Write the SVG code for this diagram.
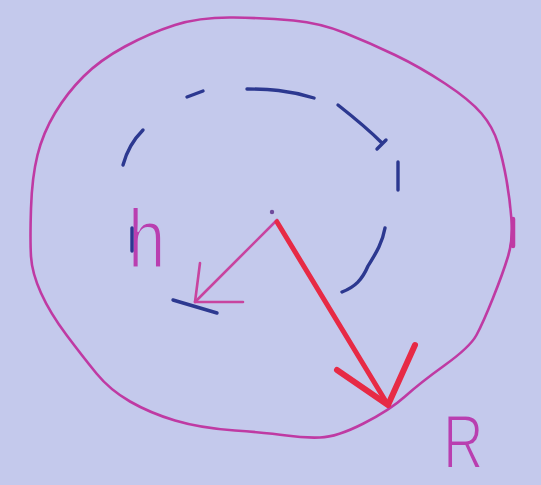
<svg xmlns="http://www.w3.org/2000/svg" width="541" height="485" viewBox="0 0 541 485">
<style>
.mag{fill:none;stroke:#bf3aa3;stroke-width:2.6;stroke-linecap:round;stroke-linejoin:round}
.blue{fill:none;stroke:#2c3890;stroke-width:3.4;stroke-linecap:round;stroke-linejoin:round}
.red{fill:none;stroke:#e72a45;stroke-linecap:round;stroke-linejoin:round}
.pink{fill:none;stroke:#c8449f;stroke-width:2.6;stroke-linecap:round;stroke-linejoin:round}
.lbl{font-family:"Liberation Sans",Arial,sans-serif;fill:#b93fb0;stroke:#c4c9ec;stroke-width:2.2;paint-order:fill}
</style>
<rect width="541" height="485" fill="#c4c9ec"/>
<g id="outer-circle">
<path class="mag" d="M293.5,20.5 Q320,23 345,33 Q370,43 395,55 Q420,67 445,83.5 Q470,100 481.5,113.5 Q493,127 498,143.5 Q503,160 506.5,180 Q510,200 511.5,220 Q513,240 508,256.5 Q503,273 493,298 Q483,323 476.5,335 Q470,347 445,365 Q420,383 405,396.5 Q390,410 363.5,423.5 Q337,437 320,437.5 Q303,438 286.5,435.5 Q270,433 235,430.5 Q200,428 175,420.5 Q150,413 130,401.5 Q110,390 96.5,373.5 Q83,357 66.5,335 Q50,313 41,293 Q32,273 31,256.5 Q30,240 31,208.5 Q32,177 37.5,155 Q43,133 55,113 Q67,93 83.5,76.5 Q100,60 125,46.5 Q150,33 175,25 Q200,17 233.5,17.5 Q267,18 293.5,20.5 Z"/>
<path class="mag" d="M513,219 L513,246" style="stroke-width:4.5"/>
</g>
<g id="inner-dashed-circle">
<path class="blue" d="M187,97 L203,91"/>
<path class="blue" d="M247,89 C268,89 288,90 314,98"/>
<path class="blue" d="M338,105 C352,116 368,129 382,143 M377,149 L386,140"/>
<path class="blue" d="M398,162 L398,190"/>
<path class="blue" d="M385,228 C382,245 374,256 368,266 C362,280 355,287 342,292"/>
<path class="blue" d="M143,130 C135,138 127,150 123,165"/>
</g>
<g id="center">
<circle cx="272" cy="212" r="2.2" fill="#6e4a9c"/>
</g>
<g id="connectors">
<g id="r-arrow">
<path class="pink" d="M277,220 L195,302"/>
<path class="pink" d="M200,263 L195,302 L243,302"/>
<path class="blue" d="M173,300 L217,313"/>
</g>
<g id="R-arrow">
<path class="red" style="stroke-width:5" d="M277,222 L388,405"/>
<path class="red" style="stroke-width:6" d="M337,370 L388,405 L415,345"/>
</g>
</g>
<g id="label-h">
<text class="lbl" transform="translate(128,268) scale(0.8,1)" font-size="84">h</text>
<path class="blue" d="M132,228 L132,251" style="stroke-width:3.4"/>
</g>
<g id="label-R">
<text class="lbl" transform="translate(443,468) scale(0.74,1)" font-size="76">R</text>
</g>
</svg>
